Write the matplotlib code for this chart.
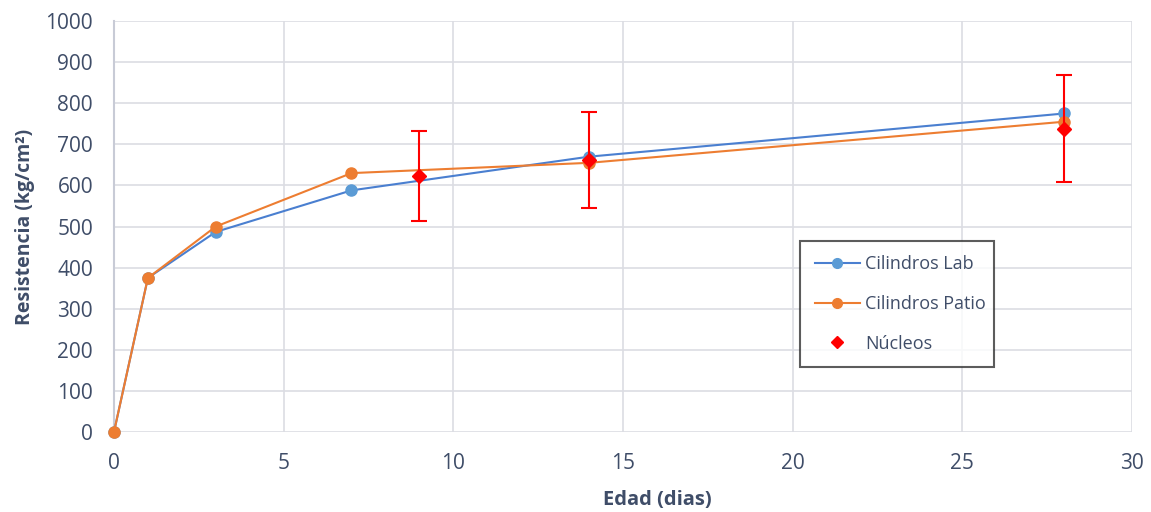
import matplotlib.pyplot as plt
from matplotlib.lines import Line2D

# Edad de ensayo (dias) y resistencias (kg/cm2)
edadCilindros = [0, 1, 3, 7, 14, 28]
cilindrosLab = [0, 375, 487, 588, 670, 775]
cilindrosPatio = [0, 375, 500, 630, 655, 755]

edadNucleos = [9, 14, 28]
nucleos = [623, 662, 738]
nucleosError = [110, 117, 130]

textColor = '#3f4d68'
plt.rcParams['font.family'] = ['Open Sans', 'DejaVu Sans']

fig = plt.figure(figsize=(11.51, 5.12), dpi=100)
ax = fig.add_axes([0.099, 0.156, 0.8845, 0.803])

ax.plot(edadCilindros, cilindrosLab, color='#4a7fd0', lw=1.5, marker='o', ms=8,
        mfc='#5b9bd5', mec='#5b9bd5', zorder=3, clip_on=False, label='Cilindros Lab')
ax.plot(edadCilindros, cilindrosPatio, color='#ed7d31', lw=1.5, marker='o', ms=8,
        mfc='#ed7d31', mec='#ed7d31', zorder=4, clip_on=False, label='Cilindros Patio')
ax.errorbar(edadNucleos, nucleos, yerr=nucleosError, fmt='D', color='red', ms=7,
            ecolor='red', elinewidth=1.5, capsize=6, capthick=1.5, zorder=5, label='Núcleos')

ax.set_xlim(0, 30)
ax.set_ylim(0, 1000)
ax.set_xticks(range(0, 31, 5))
ax.set_yticks(range(0, 1001, 100))
ax.grid(True, color='#dcdde3', lw=1.2)
ax.set_axisbelow(True)
for side in ['top', 'right', 'bottom']:
    ax.spines[side].set_visible(False)
ax.spines['left'].set_color('#c8cbd6')
ax.spines['left'].set_linewidth(1.5)
ax.tick_params(length=0, labelsize=15, colors=textColor, pad=15)

ax.set_xlabel('Edad (dias)', fontsize=14.5, fontweight='bold', color=textColor)
ax.set_ylabel('Resistencia (kg/cm²)', fontsize=14, fontweight='bold', color=textColor)
ax.xaxis.set_label_coords(0.534, -0.14)
ax.yaxis.set_label_coords(-0.078, 0.5)

handles = [
    Line2D([], [], color='#4a7fd0', lw=1.5, marker='o', ms=7, mfc='#5b9bd5', mec='#5b9bd5'),
    Line2D([], [], color='#ed7d31', lw=1.5, marker='o', ms=7, mfc='#ed7d31', mec='#ed7d31'),
    Line2D([], [], color='red', lw=0, marker='D', ms=6),
]
leg = ax.legend(handles, ['Cilindros Lab', 'Cilindros Patio', 'Núcleos'],
                loc='lower left', bbox_to_anchor=(0.674, 0.158, 0.19, 0.314), mode='expand',
                fontsize=13, labelcolor=textColor, frameon=True, fancybox=False,
                edgecolor='#333333', labelspacing=1.2, handlelength=2.5, handletextpad=0.3,
                borderpad=0.8, borderaxespad=0)
leg.get_frame().set_linewidth(1.5)

fig.savefig('out.png', dpi=100)
